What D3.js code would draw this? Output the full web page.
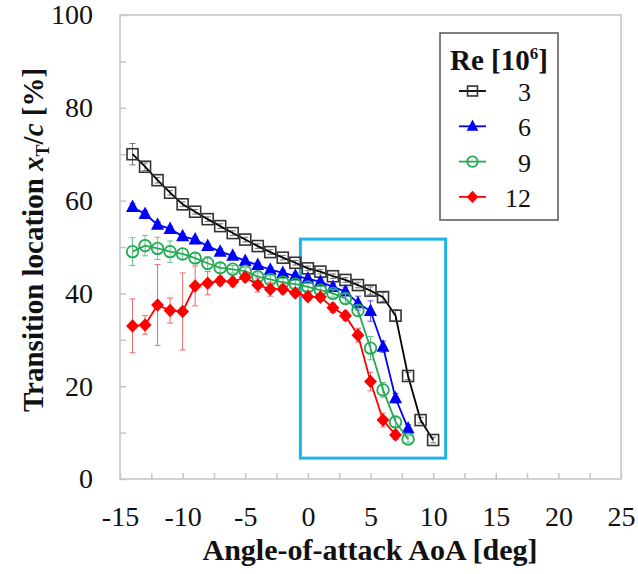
<!DOCTYPE html>
<html>
<head>
<meta charset="utf-8">
<script src="https://cdn.jsdelivr.net/npm/d3@7"></script>
<style>
  html, body { margin: 0; padding: 0; background: #fff; }
  svg { display: block; }
  svg text { font-family: "Liberation Serif", "Times New Roman", serif; }
</style>
</head>
<body>
<svg id="chart" width="638" height="574"></svg>
<script>
// Angle of attack [deg]
const aoa3  = d3.range(-14, 11);   // -14 .. 10
const aoa6  = d3.range(-14, 9);    // -14 .. 8
const aoa9  = d3.range(-14, 9);    // -14 .. 8
const aoa12 = d3.range(-14, 8);    // -14 .. 7

// Transition location xT/c [%]
const re3  = [70.0, 67.3, 64.4, 61.7, 59.2, 57.6, 56.0, 54.5, 53.0, 51.6, 50.2, 48.9, 47.7, 46.6,
              45.4, 44.7, 43.7, 42.9, 41.8, 40.6, 39.2, 35.2, 22.2, 12.7, 8.4];
const re6  = [58.6, 57.1, 54.8, 53.9, 52.3, 51.6, 50.2, 49.0, 48.1, 47.0, 46.1, 45.1, 44.4, 43.8,
              43.2, 42.5, 41.4, 40.4, 37.9, 36.2, 28.5, 17.4, 10.9];
const re9  = [49.0, 50.3, 49.7, 49.0, 48.5, 47.6, 46.5, 45.5, 45.2, 44.8, 43.6, 43.0, 42.4, 42.0,
              41.4, 40.7, 40.0, 38.9, 36.3, 28.2, 19.2, 12.3, 8.6];
const re12 = [33.0, 33.2, 37.5, 36.3, 36.1, 41.6, 42.2, 42.7, 42.5, 43.5, 41.8, 40.9, 40.9, 40.1,
              39.3, 39.2, 36.9, 35.2, 31.0, 21.0, 12.7, 9.5];

// Scatter (± half range) of each point [%]
const err3  = [2.3, 0.8, 0.6, 0.5, 0.5, 0.5, 0.5, 0.5, 0.5, 0.5, 0.5, 0.5, 0.5, 0.5,
               0.5, 0.5, 0.5, 0.5, 0.6, 0.8, 1.0, 1.2, 0.8, 0.6, 0.6];
const err6  = [0.8, 0.8, 0.7, 0.6, 0.6, 0.6, 0.6, 0.6, 0.6, 0.6, 0.6, 0.6, 0.6, 0.6,
               0.6, 0.6, 0.7, 0.8, 1.5, 2.2, 1.2, 1.0, 0.8];
const err9  = [3.0, 2.2, 2.4, 2.3, 1.2, 1.0, 1.4, 1.0, 0.8, 0.8, 0.8, 0.8, 0.8, 0.8,
               0.8, 0.8, 0.8, 1.0, 1.2, 2.5, 1.6, 1.0, 0.8];
const err12 = [5.8, 2.0, 8.7, 2.7, 8.3, 4.3, 2.5, 1.0, 1.0, 1.0, 1.5, 1.5, 1.0, 0.8,
               0.8, 0.8, 1.0, 1.0, 1.5, 2.0, 1.5, 1.0];

const reLabels = ["3", "6", "9", "12"];
const xTicks = d3.range(-15, 25.01, 2.5);
const yTicks = d3.range(0, 100.01, 10);
// Highlighted region [deg] x [%]
const boxX = [-0.6, 11.0];
const boxY = [4.5, 51.7];

const series = [
  { label: reLabels[0], x: aoa3,  y: re3,  e: err3,  color: "#000000", mark: "#333333", errColor: "#777777", shape: "square" },
  { label: reLabels[1], x: aoa6,  y: re6,  e: err6,  color: "#0000ff", mark: "#0000ff", errColor: "#5a5aff", shape: "triangle" },
  { label: reLabels[2], x: aoa9,  y: re9,  e: err9,  color: "#22aa55", mark: "#22aa55", errColor: "#66c48a", shape: "circle" },
  { label: reLabels[3], x: aoa12, y: re12, e: err12, color: "#ff0000", mark: "#ff0000", errColor: "#ee6a6a", shape: "diamond" }
];

const FONT = '"Liberation Serif", "Times New Roman", serif';
const svg = d3.select("#chart");
const L = 120, R = 621, T = 15, B = 479;

const x = d3.scaleLinear().domain([-15, 25]).range([L, R]);
const y = d3.scaleLinear().domain([0, 100]).range([B, T]);

// Plot frame
svg.append("rect")
  .attr("x", L).attr("y", T).attr("width", R - L).attr("height", B - T)
  .attr("fill", "none").attr("stroke", "#c4c4c4").attr("stroke-width", 1.5);

// Axes (inward ticks)
const gx = svg.append("g").attr("transform", `translate(0,${B})`)
  .call(d3.axisBottom(x).tickValues(xTicks).tickSize(-6).tickPadding(27)
    .tickFormat(d => (d % 5 === 0 ? String(d) : "")));
const gy = svg.append("g").attr("transform", `translate(${L},0)`)
  .call(d3.axisLeft(y).tickValues(yTicks).tickSize(-6).tickPadding(27)
    .tickFormat(d => (d % 20 === 0 ? String(d) : "")));
[gx, gy].forEach(g => {
  g.attr("font-family", null).attr("font-size", null);
  g.select(".domain").remove();
  g.selectAll(".tick line").attr("stroke", "#c4c4c4").attr("stroke-width", 1.5);
  g.selectAll(".tick text").attr("fill", "#111")
    .style("font-family", FONT).style("font-size", "28px");
});

// Highlight box
svg.append("rect")
  .attr("x", x(boxX[0])).attr("y", y(boxY[1]))
  .attr("width", x(boxX[1]) - x(boxX[0])).attr("height", y(boxY[0]) - y(boxY[1]))
  .attr("fill", "none").attr("stroke", "#1fb2e8").attr("stroke-width", 3);

// Marker shapes
function drawMarker(g, shape, cx, cy, color, scale) {
  const k = scale || 1;
  if (shape === "square") {
    const h = 5.5 * k;
    g.append("rect").attr("x", cx - h).attr("y", cy - h).attr("width", 2 * h).attr("height", 2 * h)
      .attr("fill", "none").attr("stroke", color).attr("stroke-width", 1.6);
  } else if (shape === "triangle") {
    const w = 6.5 * k, hTop = 7.5 * k, hBot = 5 * k;
    g.append("path").attr("d", `M${cx},${cy - hTop}L${cx + w},${cy + hBot}L${cx - w},${cy + hBot}Z`)
      .attr("fill", color);
  } else if (shape === "circle") {
    g.append("circle").attr("cx", cx).attr("cy", cy).attr("r", 5.8 * k)
      .attr("fill", "none").attr("stroke", color).attr("stroke-width", 1.8);
  } else if (shape === "diamond") {
    const r = 6.8 * k;
    g.append("path").attr("d", `M${cx},${cy - r}L${cx + r * 0.95},${cy}L${cx},${cy + r}L${cx - r * 0.95},${cy}Z`)
      .attr("fill", color);
  }
}

const line = d3.line().x(d => x(d[0])).y(d => y(d[1]));

series.forEach(s => {
  const g = svg.append("g");
  const pts = s.x.map((a, i) => [a, s.y[i], s.e[i]]);
  // error bars
  pts.forEach(p => {
    const x0 = x(p[0]), y1 = y(p[1] + p[2]), y2 = y(p[1] - p[2]);
    g.append("line").attr("x1", x0).attr("x2", x0).attr("y1", y1).attr("y2", y2)
      .attr("stroke", s.errColor).attr("stroke-width", 1);
    [y1, y2].forEach(yy => g.append("line").attr("x1", x0 - 3).attr("x2", x0 + 3)
      .attr("y1", yy).attr("y2", yy).attr("stroke", s.errColor).attr("stroke-width", 1));
  });
  g.append("path").datum(pts).attr("d", line)
    .attr("fill", "none").attr("stroke", s.color).attr("stroke-width", 1.8);
  pts.forEach(p => drawMarker(g, s.shape, x(p[0]), y(p[1]), s.mark));
});

// Legend
const lg = svg.append("g");
lg.append("rect").attr("x", 440).attr("y", 33).attr("width", 118).attr("height", 187)
  .attr("fill", "#fff").attr("stroke", "#555").attr("stroke-width", 1.5);
const lt = lg.append("text").attr("x", 499).attr("y", 70).attr("text-anchor", "middle")
  .style("font-size", "29px").attr("font-weight", "bold").attr("fill", "#111");
lt.append("tspan").text("Re [10");
lt.append("tspan").style("font-size", "17px").attr("dy", -11).text("6");
lt.append("tspan").attr("dy", 11).text("]");
series.forEach((s, i) => {
  const ly = 91 + i * 35.3;
  lg.append("line").attr("x1", 459).attr("x2", 486).attr("y1", ly).attr("y2", ly)
    .attr("stroke", s.color).attr("stroke-width", 1.8);
  drawMarker(lg, s.shape, 472.5, ly, s.mark, 0.9);
  lg.append("text").attr("x", 531).attr("y", ly + 10).attr("text-anchor", "end")
    .style("font-size", "26px").attr("fill", "#111").text(s.label);
});

// Axis titles
svg.append("text").attr("x", 370).attr("y", 560).attr("text-anchor", "middle")
  .style("font-size", "30px").attr("font-weight", "bold").attr("fill", "#111")
  .text("Angle-of-attack AoA [deg]");
const yt = svg.append("text").attr("transform", "translate(43,240) rotate(-90)")
  .attr("text-anchor", "middle").style("font-size", "29px").attr("font-weight", "bold").attr("fill", "#111");
yt.append("tspan").text("Transition location ");
yt.append("tspan").attr("font-style", "italic").text("x");
yt.append("tspan").style("font-size", "18px").attr("dy", 6).text("T");
yt.append("tspan").attr("dy", -6).text("/");
yt.append("tspan").attr("font-style", "italic").text("c");
yt.append("tspan").text(" [%]");
</script>
</body>
</html>
